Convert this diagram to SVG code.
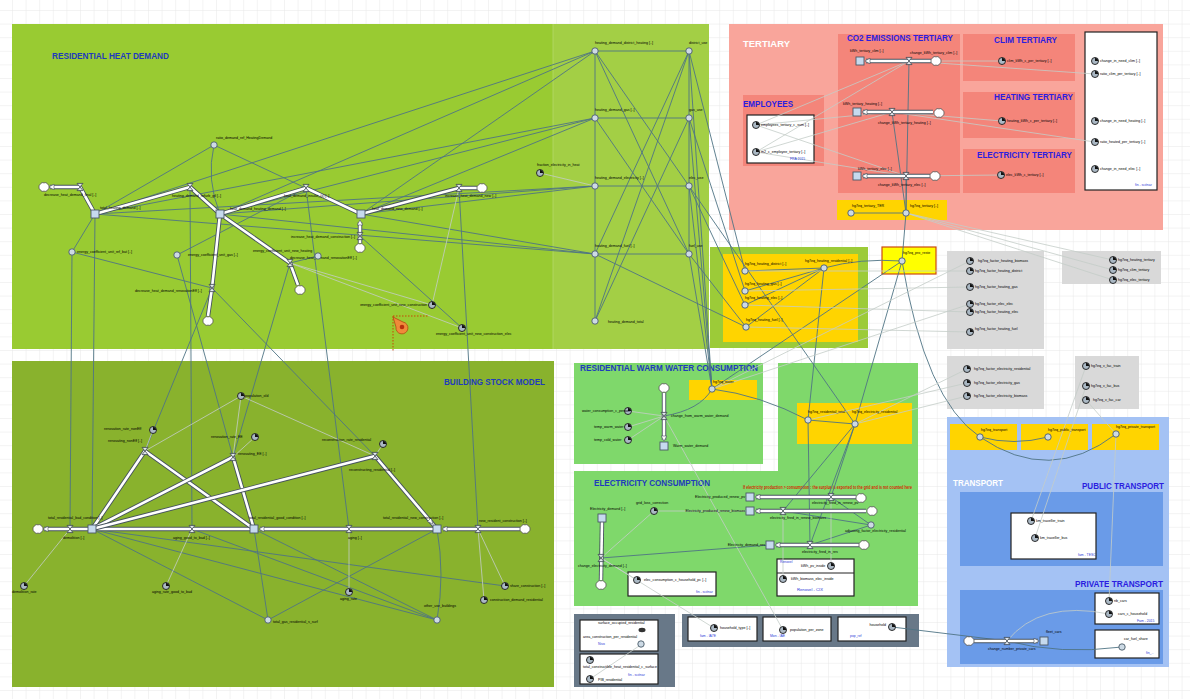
<svg xmlns="http://www.w3.org/2000/svg" width="1190" height="699" viewBox="0 0 1190 699">
<style>
.l{font-family:"Liberation Sans",Arial,sans-serif;font-size:3.6px;fill:#000}
.s{font-family:"Liberation Sans",Arial,sans-serif;font-size:3.4px;fill:#2a3ad8}
.t{font-family:"Liberation Sans",Arial,sans-serif;font-weight:bold;font-size:8.2px;fill:#1e3bbd}
.tp{fill:#2b1ee0}
.tw{fill:#ffffff;font-size:9px}
.c{fill:none;stroke:#4f7484;stroke-width:0.9}
.g{fill:none;stroke:#c4cdc8;stroke-width:0.8}
.po{fill:none;stroke:#46525e;stroke-width:4.4;stroke-linejoin:round}
.pi{fill:none;stroke:#ffffff;stroke-width:2.6;stroke-linejoin:round}
.ah{fill:#fff;stroke:#46525e;stroke-width:0.6}
.a{fill:#cddae5;stroke:#485a68;stroke-width:0.9}
.k{fill:#c6daee;stroke:#4a5866;stroke-width:0.9}
.wb{fill:#fff;stroke:#222;stroke-width:1.2}
</style>
<defs>
<pattern id="grid" x="12" y="10" width="13.6" height="13.6" patternUnits="userSpaceOnUse"><path d="M0,0H13.6M0,0V13.6" stroke="#e4e4e4" stroke-width="0.9" fill="none"/></pattern>
<g id="pie"><circle r="3.5" fill="#aab8c4" stroke="#1a1a1a" stroke-width="0.9"/><path d="M0,0V-3.1A3.1,3.1 0 0 1 3.1,0Z" fill="#111"/></g>
<g id="vl"><path d="M-3,-3.6H3L-3,3.6H3Z" fill="#e3e9ee" stroke="#3c4650" stroke-width="0.8"/></g>
<g id="cl"><path d="M5,0A2.3,2.3 0 0 1 3.5,2.8A2.3,2.3 0 0 1 0,4A2.3,2.3 0 0 1 -3.5,2.8A2.3,2.3 0 0 1 -5,0A2.3,2.3 0 0 1 -3.5,-2.8A2.3,2.3 0 0 1 0,-4A2.3,2.3 0 0 1 3.5,-2.8A2.3,2.3 0 0 1 5,0Z" fill="#fff" stroke="#555" stroke-width="0.8"/></g>
</defs>
<rect width="1190" height="699" fill="#fff"/>
<rect width="1190" height="699" fill="url(#grid)"/>

<g id="regions">
<rect x="12" y="24" width="697" height="325" fill="#99cb32"/>
<rect x="553" y="24" width="156" height="325" fill="#a3cf45"/>
<line x1="553" y1="24" x2="553" y2="349" stroke="#b4d96a" stroke-width="0.8"/>
<rect x="12" y="361" width="542" height="326" fill="#89b22d"/>
<rect x="574" y="363" width="189" height="101" fill="#7fd86b"/>
<rect x="778" y="363" width="140" height="243" fill="#7fd86b"/>
<rect x="574" y="471" width="344" height="135" fill="#7fd86b"/>
<rect x="710" y="247" width="158" height="101" fill="#9ccb38"/>
<rect x="723" y="254" width="135" height="88" fill="#ffd400"/>
<rect x="689" y="380" width="68" height="20" fill="#ffd400"/>
<rect x="797" y="403" width="115" height="41" fill="#ffd400"/>
<rect x="882" y="247" width="54" height="27" fill="#ffff00" stroke="#cc4a10" stroke-width="1.2"/>
<rect x="729" y="24" width="434" height="206" fill="#f9a59b"/>
<rect x="838" y="34" width="122" height="159" fill="#f4857a"/>
<rect x="963" y="34" width="112" height="47" fill="#f4857a"/>
<rect x="963" y="92" width="112" height="46" fill="#f4857a"/>
<rect x="963" y="149" width="112" height="44" fill="#f4857a"/>
<rect x="743" y="95" width="81" height="71" fill="#f4857a"/>
<rect x="747" y="115" width="67" height="48" class="wb"/>
<rect x="1085" y="32" width="72" height="158" class="wb"/>
<rect x="837" y="200" width="110" height="20" fill="#ffd400"/>
<rect x="947" y="251" width="97" height="98" fill="#d9d9d9"/>
<rect x="1062" y="251" width="99" height="33" fill="#d9d9d9"/>
<rect x="947" y="356" width="97" height="53" fill="#d9d9d9"/>
<rect x="1075" y="356" width="64" height="53" fill="#d9d9d9"/>
<rect x="947" y="417" width="222" height="250" fill="#a4c2f4"/>
<rect x="950" y="424" width="67" height="26" fill="#ffd400"/>
<rect x="1021" y="424" width="67" height="26" fill="#ffd400"/>
<rect x="1092" y="424" width="67" height="26" fill="#ffd400"/>
<rect x="960" y="492" width="203" height="74" fill="#6a9be8"/>
<rect x="960" y="590" width="203" height="74" fill="#6a9be8"/>
<rect x="1011" y="513" width="85" height="46" class="wb"/>
<rect x="1095" y="593" width="64" height="31" class="wb"/>
<rect x="1095" y="630" width="64" height="28" class="wb"/>
<rect x="574" y="614" width="101" height="73" fill="#687888"/>
<rect x="682" y="614" width="237" height="33" fill="#687888"/>
<rect x="580" y="620" width="78" height="31" class="wb"/>
<rect x="580" y="654" width="78" height="30" class="wb"/>
<rect x="688" y="617" width="69" height="24" class="wb"/>
<rect x="763" y="617" width="68" height="24" class="wb"/>
<rect x="838" y="617" width="68" height="24" class="wb"/>
<rect x="628" y="572" width="88" height="24" class="wb"/>
<rect x="777" y="559" width="77" height="37" class="wb"/>
<line x1="777" y1="573" x2="854" y2="573" stroke="#222" stroke-width="1"/>
</g>

<g id="titles">
<text class="t" x="52" y="59" textLength="117" lengthAdjust="spacingAndGlyphs">RESIDENTIAL HEAT DEMAND</text>
<text class="t" x="444" y="385" textLength="101" lengthAdjust="spacingAndGlyphs">BUILDING STOCK MODEL</text>
<text class="t" x="580" y="371" textLength="178" lengthAdjust="spacingAndGlyphs">RESIDENTIAL WARM WATER CONSUMPTION</text>
<text class="t" x="594" y="486" textLength="116" lengthAdjust="spacingAndGlyphs">ELECTRICITY CONSUMPTION</text>
<text class="t tw" x="743" y="47" textLength="47" lengthAdjust="spacingAndGlyphs">TERTIARY</text>
<text class="t tp" x="847" y="41" textLength="106" lengthAdjust="spacingAndGlyphs">CO2 EMISSIONS TERTIARY</text>
<text class="t tp" x="994" y="43" textLength="63" lengthAdjust="spacingAndGlyphs">CLIM TERTIARY</text>
<text class="t tp" x="994" y="100" textLength="79" lengthAdjust="spacingAndGlyphs">HEATING TERTIARY</text>
<text class="t tp" x="977" y="158" textLength="95" lengthAdjust="spacingAndGlyphs">ELECTRICITY TERTIARY</text>
<text class="t tp" x="743" y="107" textLength="50" lengthAdjust="spacingAndGlyphs">EMPLOYEES</text>
<text class="t tw" x="953" y="486" textLength="50" lengthAdjust="spacingAndGlyphs">TRANSPORT</text>
<text class="t tp" x="1082" y="489" textLength="82" lengthAdjust="spacingAndGlyphs">PUBLIC TRANSPORT</text>
<text class="t tp" x="1075" y="587" textLength="88" lengthAdjust="spacingAndGlyphs">PRIVATE TRANSPORT</text>
<text x="743" y="489" textLength="169" lengthAdjust="spacingAndGlyphs" style="font-family:'Liberation Sans',Arial,sans-serif;font-size:4.6px;font-weight:bold;fill:#d42a00">If electricity production &gt; consumption : the surplus is exported to the grid and is not counted here</text>
</g>

<g id="connectors">
<path class="c" d="M95,214L595,51M220,214L595,51M361,214L595,51M95,214L595,118M220,214L595,118M361,214L595,118M95,214L595,186M220,214L595,186M361,214L595,186M95,214L595,254M220,214L595,254M361,214L595,254"/>
<path class="c" d="M214,145L95,214M214,145L361,214M214,145Q206,180 220,214M72,252L212,288M177,255L306,188M177,255L233,457M72,252L95,214M72,252L70,529M95,214L92,529M190,187L192,529M306,188L349,529M459,188L478,529M145,451L212,288M233,457L290,263M212,288L375,456M318,256L290,263M360,236L462,328"/>
<path class="c" d="M595,51V321M689,51V254M595,51H689M595,118H689M595,186H689M595,254H689M595,51L689,186M595,51L689,254M595,118L689,254M689,51L595,254M689,51L595,321M689,118L595,321M689,51L712,389M689,118L712,389M689,186L712,389M689,254L712,389M689,51L745,271M689,118L745,291M689,186L745,305M689,254L746,327M595,254L746,327M689,186L855,424"/>
<path class="c" d="M745,271L824,268M745,291L824,268M745,305L824,268M746,327L824,268M824,268Q860,258 902,261M824,268L808,420M712,389L902,261M712,389Q760,395 808,420M664,416Q700,410 712,389M808,420L855,424M855,424L902,261M902,261L906,213M902,261Q925,400 980,437"/>
<path class="c" d="M855,424L831,497M855,424L783,511M855,424L810,545M808,420L810,545M871,525L831,497M871,525L783,511M871,525L810,545M601,558L770,545"/>
<path class="c" d="M909,61L906,213M892,112L906,213M906,176L906,213M851,213L906,213"/>
<path class="c" d="M980,437Q1014,446 1048,437M980,437Q1050,485 1116,434M892,627L1007,641M1007,641Q1060,655 1122,647"/>
<path class="c" d="M92,529L268,620M92,529L505,586M254,529Q262,580 268,620M254,529L437,620M268,620L437,529M437,620L192,529M437,529Q445,575 437,620M92,529L437,620"/>
<path class="g" d="M540,173L595,186M290,263L432,305M290,263L462,328M432,305L459,188M349,529L349,592M192,529L166,586M70,529L24,586M478,529L505,586M478,529L484,600M145,451L153,430M233,457L255,437M375,456L383,444M241,396L145,451M241,396L233,457M241,396L375,456"/>
<path class="g" d="M654,511L601,558M654,511L750,511M601,558L637,580M601,558L714,628M783,579L783,511M831,566L831,497M783,630L664,416M628,411L664,416M628,427L664,416M628,440L664,416M642,644L590,679"/>
<path class="g" d="M1002,61L909,61M1095,74L909,61M1002,121L892,112M1095,142L892,112M1001,175L906,176M756,125L909,61M756,125L892,112M756,152L909,61M756,152L906,176M756,125L906,176M756,152L892,112M906,213L1113,260M906,213L1113,270M906,213L1113,280"/>
<path class="g" d="M970,271L745,271M970,287L745,291M970,312L745,305M970,332L746,327M970,261L712,389M970,304L712,389M967,369L855,424M967,383L808,420M967,396L855,424M1086,366L1031,521M1086,386L1035,538M1086,400L1116,434M1116,434L1109,601M1109,614Q1040,600 1007,641"/>
<path d="M393,316H428M393,316V352" fill="none" stroke="#cc3a00" stroke-width="0.9" stroke-dasharray="1.5,1.5"/>
<g id="flows">
<path class="po" d="M95,214L80,187L50,187"/><path class="pi" d="M95,214L80,187L50,187"/>
<path class="po" d="M95,214L190,187L220,214"/><path class="pi" d="M95,214L190,187L220,214"/>
<path class="po" d="M220,214L306,188L361,214"/><path class="pi" d="M220,214L306,188L361,214"/>
<path class="po" d="M361,214L459,188L477,188"/><path class="pi" d="M361,214L459,188L477,188"/>
<path class="po" d="M220,214L212,288L208,316"/><path class="pi" d="M220,214L212,288L208,316"/>
<path class="po" d="M220,214L290,263L298,285"/><path class="pi" d="M220,214L290,263L298,285"/>
<path class="po" d="M360,243L360,222"/><path class="pi" d="M360,243L360,222"/>
<path class="po" d="M92,529L44,529"/><path class="pi" d="M92,529L44,529"/>
<path class="po" d="M254,529L97,529"/><path class="pi" d="M254,529L97,529"/>
<path class="po" d="M437,529L260,529"/><path class="pi" d="M437,529L260,529"/>
<path class="po" d="M520,529L443,529"/><path class="pi" d="M520,529L443,529"/>
<path class="po" d="M92,529L145,451L254,529"/><path class="pi" d="M92,529L145,451L254,529"/>
<path class="po" d="M92,529L233,457L254,529"/><path class="pi" d="M92,529L233,457L254,529"/>
<path class="po" d="M92,529L375,456L437,529"/><path class="pi" d="M92,529L375,456L437,529"/>
<path class="po" d="M664,393L664,440"/><path class="pi" d="M664,393L664,440"/>
<path class="po" d="M931,61L866,61"/><path class="pi" d="M931,61L866,61"/>
<path class="po" d="M933,112L863,112"/><path class="pi" d="M933,112L863,112"/>
<path class="po" d="M930,176L863,176"/><path class="pi" d="M930,176L863,176"/>
<path class="po" d="M856,497L756,497"/><path class="pi" d="M856,497L756,497"/>
<path class="po" d="M866,511L756,511"/><path class="pi" d="M866,511L756,511"/>
<path class="po" d="M859,545L776,545"/><path class="pi" d="M859,545L776,545"/>
<path class="po" d="M602,522L601,580"/><path class="pi" d="M602,522L601,580"/>
<path class="po" d="M974,641L1038,641"/><path class="pi" d="M974,641L1038,641"/>
<polygon class="ah" points="49,187 54,184.2 54,189.8"/>
<polygon class="ah" points="360,220 357.2,225 362.8,225"/>
<polygon class="ah" points="43,529 48,526.2 48,531.8"/>
<polygon class="ah" points="259,529 264,526.2 264,531.8"/>
<polygon class="ah" points="442,529 447,526.2 447,531.8"/>
<polygon class="ah" points="433,524 427.5,521.5 431,518"/>
<polygon class="ah" points="664,441 661.2,436 666.8,436"/>
<polygon class="ah" points="865,61 870,58.2 870,63.8"/>
<polygon class="ah" points="862,112 867,109.2 867,114.8"/>
<polygon class="ah" points="862,176 867,173.2 867,178.8"/>
<polygon class="ah" points="755,497 760,494.2 760,499.8"/>
<polygon class="ah" points="755,511 760,508.2 760,513.8"/>
<polygon class="ah" points="775,545 780,542.2 780,547.8"/>
<polygon class="ah" points="1039,641 1034,638.2 1034,643.8"/>
</g>
</g>

<g id="marker"><path d="M393,317L403,322A6,6 0 1 1 396,327Z" fill="#f08a3a" stroke="#b04a10" stroke-width="0.8"/><circle cx="402" cy="327" r="2.3" fill="#b8300e"/></g>

<g id="n_clouds">
<use href="#cl" x="44" y="187"/><use href="#cl" x="482" y="188"/><use href="#cl" x="208" y="321"/><use href="#cl" x="300" y="290"/><use href="#cl" x="360" y="248"/>
<use href="#cl" x="38" y="529"/><use href="#cl" x="525" y="529"/><use href="#cl" x="664" y="388"/>
<use href="#cl" x="936" y="61"/><use href="#cl" x="939" y="113"/><use href="#cl" x="935" y="176"/>
<use href="#cl" x="861" y="498"/><use href="#cl" x="872" y="511"/><use href="#cl" x="864" y="545"/><use href="#cl" x="601" y="585"/><use href="#cl" x="969" y="641"/>
</g>

<g id="n_total_heating_demand"><rect class="k" x="91" y="210" width="8" height="8"/><text class="l" x="100" y="209">total_heating_demand [..]</text></g>
<g id="n_heat_demand_old"><rect class="k" x="216" y="210" width="8" height="8"/><text class="l" x="230" y="210">heat_demand_heating_demand [..]</text></g>
<g id="n_heat_demand_new"><rect class="k" x="357" y="210" width="8" height="8"/><text class="l" x="372" y="210">heat_demand_new_demand [..]</text></g>
<g id="n_v1"><use href="#vl" x="80" y="187"/><text class="l" x="44" y="196">decrease_heat_demand_final [..]</text></g>
<g id="n_v2"><use href="#vl" x="190" y="187"/><text class="l" x="172" y="197">heating_demand_refurb_gtl [..]</text></g>
<g id="n_v3"><use href="#vl" x="306" y="188"/><text class="l" x="284" y="197">heat_demand_insulat_(ii) [..]</text></g>
<g id="n_v4"><use href="#vl" x="459" y="188"/><text class="l" x="445" y="197">increase_heat_demand_new [..]</text></g>
<g id="n_v5"><use href="#vl" x="212" y="288"/><text class="l" x="135" y="292">decrease_heat_demand_renovationEff [..]</text></g>
<g id="n_v6"><use href="#vl" x="290" y="263"/><text class="l" x="290" y="259">decrease_heat_demand_renovationEff [..]</text></g>
<g id="n_v7"><use href="#vl" x="360" y="236"/><text class="l" x="291" y="238">increase_heat_demand_construction [..]</text></g>
<g id="n_ratio"><circle class="a" cx="214" cy="145" r="3.2"/><text class="l" x="216" y="139">ratio_demand_ref_HeatingDemand</text></g>
<g id="n_ec_bat"><circle class="a" cx="72" cy="252" r="3.2"/><text class="l" x="77" y="253">energy_coefficient_unit_ref_bat [..]</text></g>
<g id="n_ec_gas"><circle class="a" cx="177" cy="255" r="3.2"/><text class="l" x="188" y="256">energy_coefficient_unit_gas [..]</text></g>
<g id="n_ec_new_heating"><circle class="a" cx="318" cy="256" r="3.2"/><text class="l" x="253" y="252">energy_coefficient_unit_new_heating</text></g>
<g id="n_ec_new_constr"><use href="#pie" x="432" y="305"/><text class="l" x="427" y="306" text-anchor="end">energy_coefficient_unit_new_construction</text></g>
<g id="n_ec_new_elec"><use href="#pie" x="462" y="328"/><text class="l" x="436" y="335">energy_coefficient_unit_new_construction_elec</text></g>
<g id="n_frac_elec"><use href="#pie" x="540" y="173"/><text class="l" x="537" y="166">fraction_electricity_in_heat</text></g>
<g id="n_hd_dh"><circle class="a" cx="595" cy="51" r="3.2"/><text class="l" x="595" y="44">heating_demand_district_heating [..]</text></g>
<g id="n_hd_gas"><circle class="a" cx="595" cy="118" r="3.2"/><text class="l" x="595" y="111">heating_demand_gas [..]</text></g>
<g id="n_hd_elec"><circle class="a" cx="595" cy="186" r="3.2"/><text class="l" x="595" y="179">heating_demand_electricity [..]</text></g>
<g id="n_hd_fuel"><circle class="a" cx="595" cy="254" r="3.2"/><text class="l" x="595" y="247">heating_demand_fuel [..]</text></g>
<g id="n_hd_total"><circle class="a" cx="595" cy="321" r="3.2"/><text class="l" x="608" y="323">heating_demand_total</text></g>
<g id="n_use_dh"><circle class="a" cx="689" cy="51" r="3.2"/><text class="l" x="689" y="44">district_use</text></g>
<g id="n_use_gas"><circle class="a" cx="689" cy="118" r="3.2"/><text class="l" x="689" y="111">gas_use</text></g>
<g id="n_use_elec"><circle class="a" cx="689" cy="186" r="3.2"/><text class="l" x="689" y="179">elec_use</text></g>
<g id="n_use_fuel"><circle class="a" cx="689" cy="254" r="3.2"/><text class="l" x="689" y="247">fuel_use</text></g>

<g id="n_bad"><rect class="k" x="88" y="525" width="8" height="8"/><text class="l" x="48" y="519">total_residential_bad_condition [..]</text></g>
<g id="n_good"><rect class="k" x="250" y="525" width="8" height="8"/><text class="l" x="249" y="519">total_residential_good_condition [..]</text></g>
<g id="n_newc"><rect class="k" x="433" y="525" width="8" height="8"/><text class="l" x="383" y="519">total_residential_new_construction [..]</text></g>
<g id="n_demolition"><use href="#vl" x="70" y="529"/><text class="l" x="63" y="539">demolition [..]</text></g>
<g id="n_aging_gb"><use href="#vl" x="192" y="529"/><text class="l" x="173" y="539">aging_good_to_bad [..]</text></g>
<g id="n_aging"><use href="#vl" x="349" y="529"/><text class="l" x="348" y="539">aging [..]</text></g>
<g id="n_new_constr"><use href="#vl" x="478" y="529"/><text class="l" x="479" y="522">new_resident_construction [..]</text></g>
<g id="n_ren_nonEff"><use href="#vl" x="145" y="451"/><text class="l" x="108" y="442">renovating_nonEff [..]</text></g>
<g id="n_ren_EE"><use href="#vl" x="233" y="457"/><text class="l" x="238" y="455">renovating_EE [..]</text></g>
<g id="n_recon"><use href="#vl" x="375" y="456"/><text class="l" x="349" y="471">reconstructing_residential [..]</text></g>
<g id="n_rr_nonEff"><use href="#pie" x="153" y="430"/><text class="l" x="104" y="430">renovation_rate_nonEff</text></g>
<g id="n_rr_EE"><use href="#pie" x="255" y="437"/><text class="l" x="211" y="438">renovation_rate_EE</text></g>
<g id="n_pop_old"><use href="#pie" x="241" y="396"/><text class="l" x="245" y="397">population_old</text></g>
<g id="n_rr_recon"><use href="#pie" x="383" y="444"/><text class="l" x="322" y="441">reconstruction_rate_residential</text></g>
<g id="n_demolition_rate"><use href="#pie" x="24" y="586"/><text class="l" x="12" y="593">demolition_rate</text></g>
<g id="n_aging_rate_gb"><use href="#pie" x="166" y="586"/><text class="l" x="152" y="593">aging_rate_good_to_bad</text></g>
<g id="n_total_gas"><circle class="a" cx="268" cy="620" r="3.2"/><text class="l" x="273" y="623">total_gas_residential_s_surf</text></g>
<g id="n_aging_rate"><use href="#pie" x="349" y="592"/><text class="l" x="340" y="600">aging_rate</text></g>
<g id="n_other_use"><circle class="a" cx="437" cy="620" r="3.2"/><text class="l" x="424" y="607">other_use_buildings</text></g>
<g id="n_share_constr"><use href="#pie" x="505" y="586"/><text class="l" x="510" y="587">share_construction [..]</text></g>
<g id="n_constr_demand"><use href="#pie" x="484" y="600"/><text class="l" x="490" y="601">construction_demand_residential</text></g>

<g id="n_ww_stock"><rect class="k" x="660" y="442" width="8" height="8"/><text class="l" x="673" y="447">Warm_water_demand</text></g>
<g id="n_ww_valve"><use href="#vl" x="664" y="416"/><text class="l" x="671" y="417">change_from_warm_water_demand</text></g>
<g id="n_ww_pp"><use href="#pie" x="628" y="411"/><text class="l" x="582" y="412">water_consumption_c_person</text></g>
<g id="n_ww_temp"><use href="#pie" x="628" y="427"/><text class="l" x="594" y="428">temp_warm_water</text></g>
<g id="n_ww_cold"><use href="#pie" x="628" y="440"/><text class="l" x="594" y="441">temp_cold_water</text></g>
<g id="n_hg_water"><circle class="a" cx="712" cy="389" r="3.2"/><text class="l" x="713" y="383">hg7eq_water</text></g>

<g id="n_hg_h_dh"><circle class="a" cx="745" cy="271" r="3.2"/><text class="l" x="745" y="265">hg7eq_heating_district [..]</text></g>
<g id="n_hg_h_gas"><circle class="a" cx="745" cy="291" r="3.2"/><text class="l" x="745" y="285">hg7eq_heating_gas [..]</text></g>
<g id="n_hg_h_elec"><circle class="a" cx="745" cy="305" r="3.2"/><text class="l" x="745" y="299">hg7eq_heating_elec [..]</text></g>
<g id="n_hg_h_fuel"><circle class="a" cx="746" cy="327" r="3.2"/><text class="l" x="746" y="321">hg7eq_heating_fuel [..]</text></g>
<g id="n_hg_h_res"><circle class="a" cx="824" cy="268" r="3.2"/><text class="l" x="805" y="262">hg7eq_heating_residential [..]</text></g>
<g id="n_hg_pro"><circle class="a" cx="902" cy="261" r="3.2"/><text class="l" x="903" y="254">hg7eq_pro_reste</text></g>
<g id="n_hg_res_total"><circle class="a" cx="808" cy="420" r="3.2"/><text class="l" x="808" y="413">hg7eq_residential_total</text></g>
<g id="n_hg_elec_res"><circle class="a" cx="855" cy="424" r="3.2"/><text class="l" x="852" y="413">hg7eq_electricity_residential</text></g>

<g id="n_f1"><use href="#pie" x="970" y="261"/><text class="l" x="978" y="262">hg7eq_factor_heating_biomass</text></g>
<g id="n_f2"><use href="#pie" x="970" y="271"/><text class="l" x="975" y="272">hg7eq_factor_heating_district</text></g>
<g id="n_f3"><use href="#pie" x="970" y="287"/><text class="l" x="975" y="288">hg7eq_factor_heating_gas</text></g>
<g id="n_f4"><use href="#pie" x="970" y="304"/><text class="l" x="975" y="305">hg7eq_factor_elec_elec</text></g>
<g id="n_f5"><use href="#pie" x="970" y="312"/><text class="l" x="975" y="313">hg7eq_factor_heating_elec</text></g>
<g id="n_f6"><use href="#pie" x="970" y="332"/><text class="l" x="975" y="330">hg7eq_factor_heating_fuel</text></g>
<g id="n_t1"><use href="#pie" x="1113" y="260"/><text class="l" x="1118" y="261">hg7eq_heating_tertiary</text></g>
<g id="n_t2"><use href="#pie" x="1113" y="270"/><text class="l" x="1118" y="271">hg7eq_clim_tertiary</text></g>
<g id="n_t3"><use href="#pie" x="1113" y="280"/><text class="l" x="1118" y="281">hg7eq_elec_tertiary</text></g>
<g id="n_fe1"><use href="#pie" x="967" y="369"/><text class="l" x="974" y="370">hg7eq_factor_electricity_residential</text></g>
<g id="n_fe2"><use href="#pie" x="967" y="383"/><text class="l" x="974" y="384">hg7eq_factor_electricity_gas</text></g>
<g id="n_fe3"><use href="#pie" x="967" y="396"/><text class="l" x="974" y="397">hg7eq_factor_electricity_biomass</text></g>
<g id="n_v_train"><use href="#pie" x="1086" y="366"/><text class="l" x="1091" y="367">hg7eq_v_fac_train</text></g>
<g id="n_v_bus"><use href="#pie" x="1086" y="386"/><text class="l" x="1091" y="387">hg7eq_v_fac_bus</text></g>
<g id="n_v_car"><use href="#pie" x="1086" y="400"/><text class="l" x="1093" y="401">hg7eq_v_fac_car</text></g>
<g id="n_hg_transport"><circle class="a" cx="980" cy="437" r="3.2"/><text class="l" x="981" y="431">hg7eq_transport</text></g>
<g id="n_hg_public"><circle class="a" cx="1048" cy="437" r="3.2"/><text class="l" x="1048" y="431">hg7eq_public_transport</text></g>
<g id="n_hg_private"><circle class="a" cx="1116" cy="434" r="3.2"/><text class="l" x="1116" y="428">hg7eq_private_transport</text></g>
<g id="n_km_train"><use href="#pie" x="1031" y="521"/><text class="l" x="1036" y="522">km_traveller_train</text></g>
<g id="n_km_bus"><use href="#pie" x="1035" y="538"/><text class="l" x="1040" y="539">km_traveller_bus</text></g>
<text class="s" x="1078" y="556">fam - TESC</text>
<g id="n_fleet"><rect class="k" x="1040" y="637" width="8" height="8"/><text class="l" x="1046" y="633">fleet_cars</text></g>
<g id="n_change_cars"><use href="#vl" x="1007" y="641"/><text class="l" x="988" y="650">change_number_private_cars</text></g>
<g id="n_nb_cars"><use href="#pie" x="1109" y="601"/><text class="l" x="1114" y="602">nb_cars</text></g>
<g id="n_cars_hh"><use href="#pie" x="1109" y="614"/><text class="l" x="1118" y="615">cars_c_household</text></g>
<text class="s" x="1137" y="622">Fam - 2015</text>
<g id="n_car_fuel"><circle class="a" cx="1122" cy="647" r="3.2"/><text class="l" x="1124" y="640">car_fuel_share</text></g>
<text class="s" x="1146" y="654">fin_..</text>

<g id="n_kwh_clim"><rect class="k" x="856" y="57" width="8" height="8"/><text class="l" x="850" y="52">kWh_tertiary_clim [..]</text></g>
<g id="n_kwh_heat"><rect class="k" x="853" y="108" width="8" height="8"/><text class="l" x="843" y="105">kWh_tertiary_heating [..]</text></g>
<g id="n_kwh_elec"><rect class="k" x="853" y="172" width="8" height="8"/><text class="l" x="858" y="170">kWh_tertiary_elec [..]</text></g>
<g id="n_chg_clim"><use href="#vl" x="909" y="61"/><text class="l" x="910" y="54">change_kWh_tertiary_clim [..]</text></g>
<g id="n_chg_heat"><use href="#vl" x="892" y="112"/><text class="l" x="878" y="124">change_kWh_tertiary_heating [..]</text></g>
<g id="n_chg_elec"><use href="#vl" x="906" y="176"/><text class="l" x="878" y="186">change_kWh_tertiary_elec [..]</text></g>
<g id="n_clim_c"><use href="#pie" x="1002" y="61"/><text class="l" x="1007" y="62">clim_kWh_c_per_tertiary [..]</text></g>
<g id="n_heat_c"><use href="#pie" x="1002" y="121"/><text class="l" x="1007" y="122">heating_kWh_c_per_tertiary [..]</text></g>
<g id="n_elec_c"><use href="#pie" x="1001" y="175"/><text class="l" x="1006" y="176">elec_kWh_c_tertiary [..]</text></g>
<g id="n_need_clim"><use href="#pie" x="1095" y="61"/><text class="l" x="1100" y="62">change_in_need_clim [..]</text></g>
<g id="n_ratio_clim"><use href="#pie" x="1095" y="74"/><text class="l" x="1100" y="75">ratio_clim_per_tertiary [..]</text></g>
<g id="n_need_heat"><use href="#pie" x="1095" y="121"/><text class="l" x="1100" y="122">change_in_need_heating [..]</text></g>
<g id="n_ratio_heat"><use href="#pie" x="1095" y="142"/><text class="l" x="1100" y="143">ratio_heated_per_tertiary [..]</text></g>
<g id="n_need_elec"><use href="#pie" x="1095" y="169"/><text class="l" x="1100" y="170">change_in_need_elec [..]</text></g>
<text class="s" x="1135" y="186">fin - scénar</text>
<g id="n_employees"><use href="#pie" x="756" y="125"/><text class="l" x="761" y="126">employees_tertiary_c_sum [..]</text></g>
<g id="n_m2_emp"><use href="#pie" x="756" y="152"/><text class="l" x="761" y="153">m2_c_employee_tertiary [..]</text></g>
<text class="s" x="790" y="160">FRA 2015</text>
<g id="n_hg_ter_TER"><circle class="a" cx="851" cy="213" r="3.2"/><text class="l" x="852" y="207">hg7eq_tertiary_TER</text></g>
<g id="n_hg_ter"><circle class="a" cx="906" cy="213" r="3.2"/><text class="l" x="910" y="207">hg7eq_tertiary [..]</text></g>

<g id="n_elec_demand"><rect class="k" x="598" y="514" width="8" height="8"/><text class="l" x="590" y="510">Electricity_demand [..]</text></g>
<g id="n_chg_elec_demand"><use href="#vl" x="601" y="558"/><text class="l" x="578" y="567">change_electricity_demand [..]</text></g>
<g id="n_grid_loss"><use href="#pie" x="654" y="511"/><text class="l" x="636" y="504">grid_loss_correction</text></g>
<g id="n_prod_pv"><rect class="k" x="746" y="493" width="8" height="8"/><text class="l" x="745" y="498" text-anchor="end">Electricity_produced_renew_pv</text></g>
<g id="n_prod_bio"><rect class="k" x="746" y="507" width="8" height="8"/><text class="l" x="745" y="512" text-anchor="end">Electricity_produced_renew_biomass</text></g>
<g id="n_fired_pv"><use href="#vl" x="831" y="497"/><text class="l" x="812" y="504">electricity_fired_in_renew_pv</text></g>
<g id="n_fired_bio"><use href="#vl" x="783" y="511"/><text class="l" x="770" y="519">electricity_fired_in_renew_biomass</text></g>
<g id="n_adj"><circle class="a" cx="871" cy="525" r="3.2"/><text class="l" x="845" y="532">adjusting_factor_electricity_residential</text></g>
<g id="n_dem_res"><rect class="k" x="766" y="541" width="8" height="8"/><text class="l" x="765" y="546" text-anchor="end">Electricity_demand_res</text></g>
<g id="n_fired_res"><use href="#vl" x="810" y="545"/><text class="l" x="802" y="553">electricity_fired_in_res</text></g>
<g id="n_elec_hh"><use href="#pie" x="637" y="580"/><text class="l" x="644" y="581">elec_consumption_c_household_pc [..]</text></g>
<text class="s" x="696" y="593">fin - scénar</text>
<g id="n_kwh_pv"><use href="#pie" x="831" y="566"/><text class="l" x="801" y="567">kWh_pv_inside</text></g>
<text class="s" x="780" y="563">Renovel</text>
<g id="n_kwh_bio"><use href="#pie" x="783" y="579"/><text class="l" x="791" y="580">kWh_biomass_elec_inside</text></g>
<text class="s" x="797" y="591" style="font-size:4.2px">Renovel - CIX</text>

<g id="n_surf_occ"><text class="l" x="598" y="624">surface_occupied_residential</text><ellipse cx="642" cy="630" rx="3.5" ry="2.2" fill="#333"/><text class="l" x="583" y="638">area_construction_per_residential</text><circle class="a" cx="641" cy="644" r="3.2"/><text class="s" x="598" y="645">Nivo</text></g>
<g id="n_constructible"><use href="#pie" x="590" y="660"/><text class="l" x="583" y="668">total_constructible_heat_residential_c_surface</text><use href="#pie" x="590" y="679"/><text class="l" x="598" y="681">PIB_residential</text><text class="s" x="628" y="676">fin - scénar</text></g>
<g id="n_household_type"><use href="#pie" x="714" y="628"/><text class="l" x="720" y="629">household_type [..]</text><text class="s" x="700" y="637">fam - IA7E</text></g>
<g id="n_population"><use href="#pie" x="783" y="630"/><text class="l" x="790" y="631">population_per_zone</text><text class="s" x="770" y="637">Mon - IAE</text></g>
<g id="n_household"><use href="#pie" x="892" y="627"/><text class="l" x="886" y="626" text-anchor="end">household</text><text class="s" x="850" y="637">pop_ref</text></g>
</svg>
